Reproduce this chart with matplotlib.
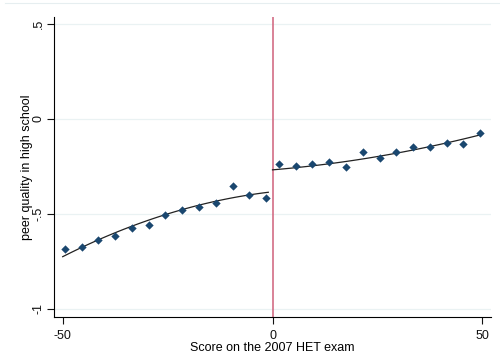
import numpy as np
import matplotlib.pyplot as plt
from matplotlib.lines import Line2D

plt.rcParams['font.family'] = ['Liberation Sans', 'DejaVu Sans']

# binned means, left and right of the cutoff
x_left = [-49.5, -45.5, -41.5, -37.5, -33.5, -29.5, -25.5, -21.5, -17.5, -13.5, -9.5, -5.5, -1.5]
y_left = [-0.684, -0.674, -0.638, -0.617, -0.572, -0.556, -0.507, -0.477, -0.461, -0.444, -0.354, -0.398, -0.417]
x_right = [1.5, 5.5, 9.5, 13.5, 17.5, 21.5, 25.5, 29.5, 33.5, 37.5, 41.5, 45.5, 49.5]
y_right = [-0.237, -0.249, -0.237, -0.226, -0.254, -0.175, -0.204, -0.175, -0.147, -0.147, -0.125, -0.132, -0.075]

# quadratic fit lines (at ends and middle)
fit_x_left = [-50, -25, -1]
fit_y_left = [-0.725, -0.50, -0.386]
fit_x_right = [0, 25, 49.5]
fit_y_right = [-0.268, -0.198, -0.084]

xticks = [-50, 0, 50]
yticks = [0.5, 0, -0.5, -1]
ytick_labels = ['.5', '0', '-.5', '-1']

fig = plt.figure(figsize=(5, 3.64), dpi=100)
ax = fig.add_axes([54.3 / 500, 1 - 317.3 / 364, (490.7 - 54.3) / 500, (317.3 - 16.7) / 364])

for yt in yticks:
    ax.axhline(yt, color='#eaf2f3', lw=0.9, zorder=0)

pl = np.polyfit(fit_x_left, fit_y_left, 2)
pr = np.polyfit(fit_x_right, fit_y_right, 2)
xl = np.linspace(fit_x_left[0], fit_x_left[-1], 100)
xr = np.linspace(fit_x_right[0], fit_x_right[-1], 100)
ax.plot(xl, np.polyval(pl, xl), color='#222222', lw=0.9, zorder=2)
ax.plot(xr, np.polyval(pr, xr), color='#222222', lw=0.9, zorder=2)

ax.scatter(x_left, y_left, marker='D', s=18, color='#1a476f', zorder=3, linewidths=0)
ax.scatter(x_right, y_right, marker='D', s=18, color='#1a476f', zorder=3, linewidths=0)

ax.axvline(0, color='#d0607a', lw=1.1, zorder=1)

ax.set_xlim(-52, 52)
ax.set_ylim(-1.044, 0.538)
ax.set_xticks(xticks)
ax.set_xticklabels([str(t) for t in xticks], fontsize=9)
ax.set_yticks(yticks)
ax.set_yticklabels(ytick_labels, fontsize=9, rotation=90, va='center')
ax.tick_params(direction='out', length=5, width=0.8, colors='#111111', pad=2)
ax.tick_params(axis='x', pad=4)
for s in ['top', 'right']:
    ax.spines[s].set_visible(False)
ax.spines['left'].set_linewidth(0.8)
ax.spines['bottom'].set_linewidth(0.8)

ax.set_xlabel('Score on the 2007 HET exam', fontsize=9, labelpad=0)
ax.set_ylabel('peer quality in high school', fontsize=9, labelpad=0)

fig.add_artist(Line2D([5 / 500, 1], [1 - 2.7 / 364, 1 - 2.7 / 364], color='#e6eef0', lw=0.8))

fig.savefig('out.png', dpi=100)
